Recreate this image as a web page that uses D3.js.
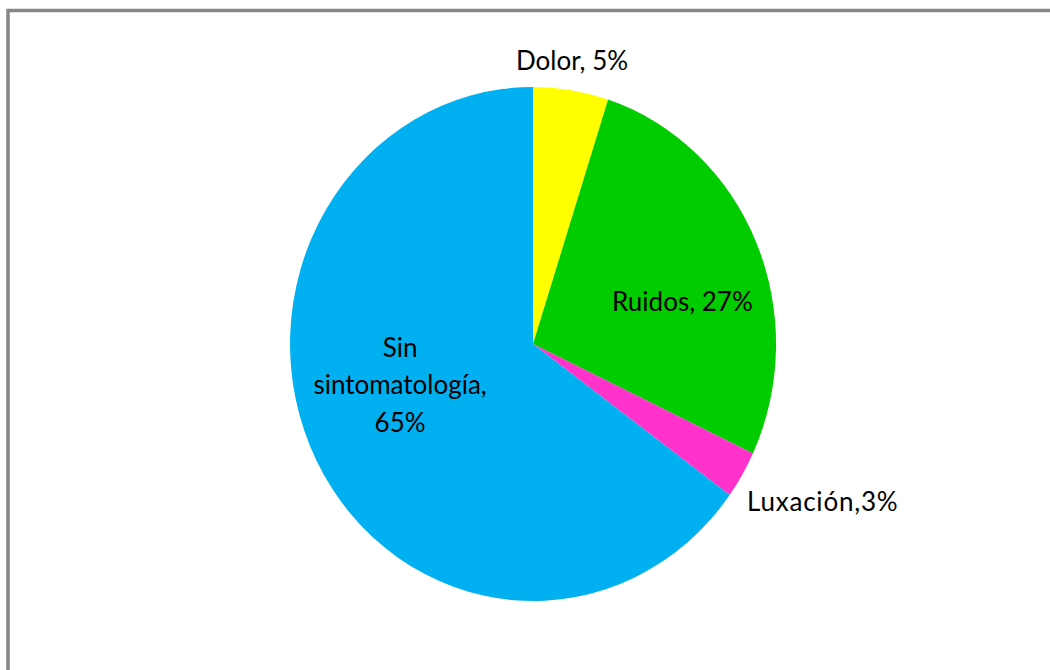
<!DOCTYPE html>
<html>
<head>
<meta charset="utf-8">
<script src="https://cdn.jsdelivr.net/npm/d3@7"></script>
<style>
  html, body { margin: 0; padding: 0; background: #ffffff; }
  svg { display: block; }
  text { font-family: Lato, "Open Sans", sans-serif; fill: #000; }
</style>
</head>
<body>
<svg id="chart" width="1050" height="670"></svg>
<script>
// Síntomas de la articulación temporomandibular (%)
const categories = ["Dolor", "Ruidos", "Luxación", "Sin sintomatología"];
const values = [5, 27, 3, 65];
const labelLines = [
  ["Dolor, 5%"],
  ["Ruidos, 27%"],
  ["Luxación,3%"],
  ["Sin", "sintomatología,", "65%"]
];
const colors = ["#FFFF00", "#00CC00", "#FF33CC", "#00B0F0"];

// Label placement: radius as a fraction of the pie, plus a pixel nudge
const labelLayout = [
  { r: 1.08, dx: -2, dy: 0, spacing: 0 },
  { r: 0.67, dx: 0, dy: 35, spacing: 0 },
  { r: 1.39, dx: -1, dy: -15, spacing: 0.8 },
  { r: 0.60, dx: -3, dy: -20, spacing: 0 }
];

const W = 1050, H = 670;
const cx = 533, cy = 344, rx = 243, ry = 257;

const svg = d3.select("#chart");

// Chart area frame
svg.append("rect")
  .attr("x", 8).attr("y", 10.5)
  .attr("width", W + 20).attr("height", H + 20)
  .attr("fill", "#ffffff")
  .attr("stroke", "#888888")
  .attr("stroke-width", 3.5);

const pie = d3.pie().sort(null).value(d => d)(values);
const arc = d3.arc().innerRadius(0).outerRadius(1);

const color = d3.scaleOrdinal().domain(categories).range(colors);

// The pie is drawn on a unit circle and stretched to an ellipse
const g = svg.append("g")
  .attr("transform", `translate(${cx},${cy}) scale(${rx},${ry})`);

g.selectAll("path")
  .data(pie)
  .join("path")
  .attr("d", arc)
  .attr("fill", (d, i) => color(categories[i]));

const lineH = 37.5;
const labels = svg.append("g");
pie.forEach((d, i) => {
  const mid = (d.startAngle + d.endAngle) / 2;
  const L = labelLayout[i];
  const x = cx + Math.sin(mid) * L.r * rx + L.dx;
  const y = cy - Math.cos(mid) * L.r * ry + L.dy;
  const lines = labelLines[i];
  const t = labels.append("text")
    .attr("text-anchor", "middle")
    .attr("font-size", 26)
    .attr("letter-spacing", L.spacing);
  const offset = (lines.length - 1) / 2;
  lines.forEach((ln, k) => {
    t.append("tspan")
      .attr("x", x)
      .attr("y", y + (k - offset) * lineH)
      .text(ln);
  });
});
</script>
</body>
</html>
